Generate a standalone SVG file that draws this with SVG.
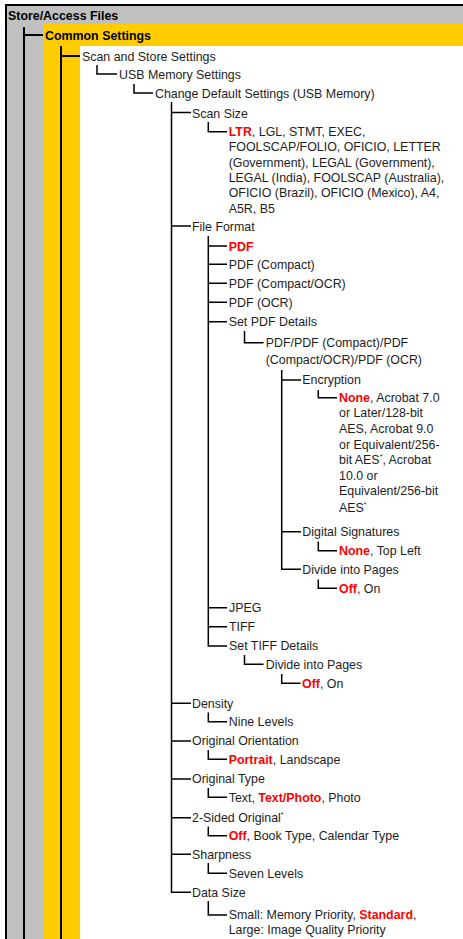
<svg xmlns="http://www.w3.org/2000/svg" width="463" height="939" viewBox="0 0 463 939">
<style>
text{font-family:"Liberation Sans",Arial,sans-serif;font-size:12.4px;fill:#1e1e1e}
.b{font-weight:bold;fill:#000}
.r{font-weight:bold;fill:#ff0000}
.sup{font-size:7px}
.ln{stroke:#000;stroke-width:1.5;fill:none}
.lt{stroke:#000;stroke-width:2;fill:none}
</style>
<rect x="0" y="0" width="463" height="939" fill="#fff"/>
<g id="bands">
<rect x="7" y="6" width="456" height="18" fill="#c0c0c0"/>
<rect x="7" y="24" width="36" height="915" fill="#c0c0c0"/>
<rect x="43" y="24" width="420" height="22" fill="#ffcc00"/>
<rect x="43" y="46" width="37" height="893" fill="#ffcc00"/>
<rect x="80" y="46" width="383" height="893" fill="#fff"/>
<path class="lt" d="M6,939 V5 H463"/>
</g>
<g id="connectors">
<path class="lt" d="M24,27 V939 M24,35 H43"/>
<path class="lt" d="M61,46 V939 M61,56 H80"/>
<path class="ln" d="M97,65 V74 H117"/>
<path class="ln" d="M134,84 V93 H153"/>
<path class="ln" d="M171.5,102 V892.3 H191 M171.5,112.5 H191 M171.5,226 H191 M171.5,703.3 H191 M171.5,741 H191 M171.5,779 H191 M171.5,817.7 H191 M171.5,854.3 H191"/>
<path class="ln" d="M208.3,122 V131.7 H227"/>
<path class="ln" d="M208.3,236 V646 H227 M208.3,246 H227 M208.3,264.3 H227 M208.3,283.3 H227 M208.3,302.3 H227 M208.3,321.7 H227 M208.3,607.7 H227 M208.3,626.7 H227"/>
<path class="ln" d="M244.5,331 V342.7 H263.5"/>
<path class="ln" d="M281.7,370 V569.3 H301 M281.7,380 H301 M281.7,531.7 H301"/>
<path class="ln" d="M318.3,390 V397.7 H337"/>
<path class="ln" d="M318.3,541.5 V550.7 H337"/>
<path class="ln" d="M318.3,579.5 V588.3 H337"/>
<path class="ln" d="M244.5,655 V664.3 H263.5"/>
<path class="ln" d="M281.7,674 V683.3 H300.5"/>
<path class="ln" d="M208.3,712.5 V721.7 H227"/>
<path class="ln" d="M208.3,750 V759.3 H227"/>
<path class="ln" d="M208.3,788 V797.3 H227"/>
<path class="ln" d="M208.3,826.5 V835.7 H227"/>
<path class="ln" d="M208.3,863 V873.3 H227"/>
<path class="ln" d="M208.3,901 V915 H227"/>
</g>
<g id="n-store"><text class="b" x="8" y="20">Store/Access Files</text></g>
<g id="n-common"><text class="b" x="45" y="39.5">Common Settings</text></g>
<g id="n-scanstore"><text x="82" y="60.5">Scan and Store Settings</text></g>
<g id="n-usb"><text x="119" y="78.5">USB Memory Settings</text></g>
<g id="n-change"><text x="155" y="97.5">Change Default Settings (USB Memory)</text></g>
<g id="n-scansize"><text x="192" y="117.5">Scan Size</text></g>
<g id="n-scansize-opts">
<text x="228.7" y="136"><tspan class="r">LTR</tspan>, LGL, STMT, EXEC,</text>
<text x="228.7" y="151.3">FOOLSCAP/FOLIO, OFICIO, LETTER</text>
<text x="228.7" y="166.6">(Government), LEGAL (Government),</text>
<text x="228.7" y="181.9">LEGAL (India), FOOLSCAP (Australia),</text>
<text x="228.7" y="197.2">OFICIO (Brazil), OFICIO (Mexico), A4,</text>
<text x="228.7" y="212.5">A5R, B5</text>
</g>
<g id="n-fileformat"><text x="192" y="230.5">File Format</text></g>
<g id="n-pdf"><text class="r" x="228.7" y="250.5">PDF</text></g>
<g id="n-pdfc"><text x="228.7" y="268.8">PDF (Compact)</text></g>
<g id="n-pdfco"><text x="228.7" y="287.8">PDF (Compact/OCR)</text></g>
<g id="n-pdfo"><text x="228.7" y="306.8">PDF (OCR)</text></g>
<g id="n-setpdf"><text x="228.7" y="326">Set PDF Details</text></g>
<g id="n-pdfall">
<text x="265.7" y="347.2">PDF/PDF (Compact)/PDF</text>
<text x="265.7" y="363.6">(Compact/OCR)/PDF (OCR)</text>
</g>
<g id="n-encryption"><text x="302.3" y="384.4">Encryption</text></g>
<g id="n-encryption-opts">
<text x="339" y="402"><tspan class="r">None</tspan>, Acrobat 7.0</text>
<text x="339" y="417.3">or Later/128-bit</text>
<text x="339" y="432.8">AES, Acrobat 9.0</text>
<text x="339" y="448.7">or Equivalent/256-</text>
<text x="339" y="464.4">bit AES<tspan class="sup" dy="-5">*</tspan><tspan dy="5">, Acrobat</tspan></text>
<text x="339" y="480.4">10.0 or</text>
<text x="339" y="495.4">Equivalent/256-bit</text>
<text x="339" y="511.7">AES<tspan class="sup" dy="-5">*</tspan></text>
</g>
<g id="n-digsig"><text x="302.3" y="536">Digital Signatures</text></g>
<g id="n-digsig-opts"><text x="339" y="555"><tspan class="r">None</tspan>, Top Left</text></g>
<g id="n-divide1"><text x="302.3" y="573.7">Divide into Pages</text></g>
<g id="n-divide1-opts"><text x="339" y="592.7"><tspan class="r">Off</tspan>, On</text></g>
<g id="n-jpeg"><text x="229" y="612">JPEG</text></g>
<g id="n-tiff"><text x="229" y="631">TIFF</text></g>
<g id="n-settiff"><text x="229" y="650.4">Set TIFF Details</text></g>
<g id="n-divide2"><text x="265.7" y="668.7">Divide into Pages</text></g>
<g id="n-divide2-opts"><text x="302" y="687.7"><tspan class="r">Off</tspan>, On</text></g>
<g id="n-density"><text x="192" y="707.7">Density</text></g>
<g id="n-density-opts"><text x="228.7" y="726">Nine Levels</text></g>
<g id="n-orient"><text x="192" y="745.4">Original Orientation</text></g>
<g id="n-orient-opts"><text x="228.7" y="763.7"><tspan class="r">Portrait</tspan>, Landscape</text></g>
<g id="n-otype"><text x="192" y="783.4">Original Type</text></g>
<g id="n-otype-opts"><text x="228.7" y="801.7">Text, <tspan class="r">Text/Photo</tspan>, Photo</text></g>
<g id="n-2sided"><text x="192" y="822">2-Sided Original<tspan class="sup" dy="-5">*</tspan></text></g>
<g id="n-2sided-opts"><text x="228.7" y="840"><tspan class="r">Off</tspan>, Book Type, Calendar Type</text></g>
<g id="n-sharp"><text x="192" y="858.7">Sharpness</text></g>
<g id="n-sharp-opts"><text x="228.7" y="877.7">Seven Levels</text></g>
<g id="n-datasize"><text x="192" y="896.7">Data Size</text></g>
<g id="n-datasize-opts">
<text x="228.7" y="919.4">Small: Memory Priority, <tspan class="r">Standard</tspan>,</text>
<text x="228.7" y="933.7">Large: Image Quality Priority</text>
</g>
</svg>
